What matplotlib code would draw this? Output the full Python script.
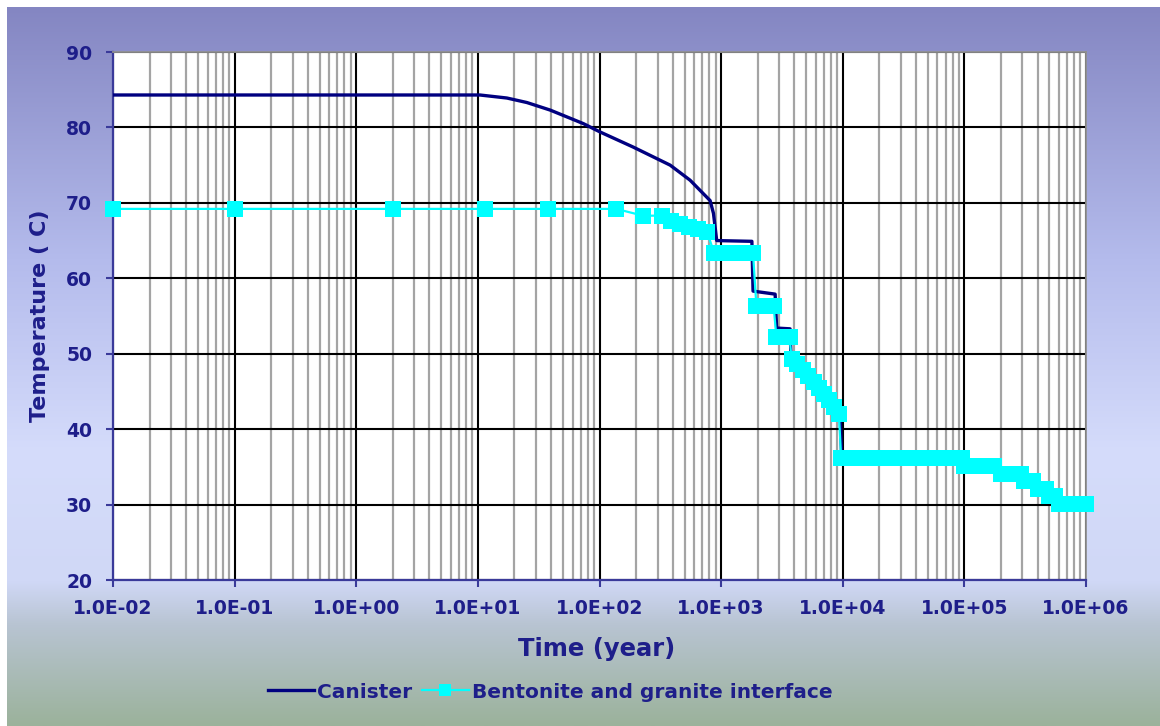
import numpy as np
import matplotlib
matplotlib.use("Agg")
import matplotlib.pyplot as plt
from matplotlib.lines import Line2D

# ---- data -------------------------------------------------------------
canister_years = [0.01, 10.4, 11.8, 17.3, 25.3, 39.3, 73.8, 101, 189, 381, 556,
                  812, 865, 920, 1790, 1830, 2780, 2860, 3690, 3750, 4700, 5800,
                  7000, 8500, 9500, 9800, 95000, 100000, 190000, 200000, 290000,
                  310000, 370000, 400000, 470000, 500000, 560000, 600000, 1000000]
canister_temp = [84.3, 84.3, 84.2, 83.9, 83.3, 82.3, 80.5, 79.4, 77.4, 75.0, 73.0,
                 70.3, 68.6, 65.0, 64.9, 58.3, 57.9, 53.4, 53.3, 49.8, 48.3, 46.6,
                 44.9, 43.2, 42.2, 36.4, 36.3, 35.2, 35.1, 34.1, 34.0,
                 33.2, 33.1, 32.0, 32.0, 31.2, 31.2, 30.1, 30.1]

interface_years = [0.01, 0.1, 2, 11.5, 38, 137, 228, 325, 388, 460, 546, 647, 767,
                   880, 1000, 1150, 1300, 1500, 1700, 1830,
                   1950, 2300, 2700,
                   2850, 3200, 3650,
                   3800, 4200, 4700, 5200, 5800, 6400, 7000, 7700, 8500, 9300,
                   9700, 12000, 15000, 18000, 22000, 27000, 33000, 40000, 48000,
                   58000, 70000, 85000, 95000,
                   100000, 120000, 145000, 175000,
                   200000, 240000, 290000,
                   310000, 370000,
                   400000, 470000,
                   500000, 560000,
                   600000, 680000, 760000, 850000, 1000000]
interface_temp = [69.2, 69.2, 69.2, 69.2, 69.2, 69.2, 68.3, 68.3, 67.6, 67.2, 66.8, 66.5, 66.1,
                  63.3, 63.3, 63.3, 63.3, 63.3, 63.3, 63.3,
                  56.3, 56.3, 56.3,
                  52.2, 52.2, 52.2,
                  49.3, 48.6, 47.8, 47.0, 46.2, 45.4, 44.6, 43.8, 42.9, 42.0,
                  36.2, 36.2, 36.2, 36.2, 36.2, 36.2, 36.2, 36.2, 36.2,
                  36.2, 36.2, 36.2, 36.2,
                  35.1, 35.1, 35.1, 35.1,
                  34.0, 34.0, 34.0,
                  33.15, 33.15,
                  32.0, 32.0,
                  31.2, 31.2,
                  30.05, 30.05, 30.05, 30.05, 30.05]

x_ticks = [1e-2, 1e-1, 1e0, 1e1, 1e2, 1e3, 1e4, 1e5, 1e6]
x_tick_labels = ["1.0E-02", "1.0E-01", "1.0E+00", "1.0E+01", "1.0E+02",
                 "1.0E+03", "1.0E+04", "1.0E+05", "1.0E+06"]
y_ticks = [20, 30, 40, 50, 60, 70, 80, 90]

# ---- styling ----------------------------------------------------------
TEXT = "#1e1e8a"
NAVY = "#000080"
CYAN = "#00ffff"
plt.rcParams["font.family"] = ["DejaVu Sans"]

W, H = 1160, 726
fig = plt.figure(figsize=(W / 100, H / 100), dpi=100)
fig.patch.set_facecolor("white")

# gradient backdrop (white strip on top and left)
bg = fig.add_axes([7 / W, 0, (W - 7) / W, (H - 7) / H], zorder=-5)
rows = np.linspace(0, 1, 400)
stops = [0.0, 0.35, 0.62, 0.80, 0.86, 1.0]
cols = np.array([[0x84, 0x86, 0xc2],
                 [0xb4, 0xbb, 0xec],
                 [0xd5, 0xdc, 0xfb],
                 [0xd0, 0xd8, 0xf6],
                 [0xb8, 0xc4, 0xd2],
                 [0x9b, 0xb2, 0x9b]]) / 255.0
grad = np.stack([np.interp(rows, stops, cols[:, k]) for k in range(3)], axis=-1)
bg.imshow(grad[:, None, :], aspect="auto", extent=[0, 1, 1, 0], interpolation="bilinear")
bg.set_xlim(0, 1)
bg.set_ylim(1, 0)
bg.axis("off")

ax = fig.add_axes([113 / W, 1 - 580 / H, (1086 - 113) / W, (580 - 52) / H])
ax.set_facecolor("white")
ax.set_xscale("log")
ax.set_xlim(1e-2, 1e6)
ax.set_ylim(20, 90)

ax.grid(True, which="major", axis="both", color="black", lw=1.5, zorder=0)
ax.grid(True, which="minor", axis="x", color="#a4a4a4", lw=1.6, zorder=0)
ax.set_axisbelow(True)

ax.plot(canister_years, canister_temp, color=NAVY, lw=2.4, zorder=3)
ax.plot(interface_years, interface_temp, color=CYAN, lw=1.6, marker="s",
        markersize=11, markeredgewidth=0, markerfacecolor=CYAN, zorder=4,
        clip_on=False)

ax.set_xticks(x_ticks)
ax.set_xticklabels(x_tick_labels)
ax.set_yticks(y_ticks)
ax.xaxis.set_minor_formatter(plt.NullFormatter())
ax.tick_params(axis="x", which="minor", length=0)
ax.tick_params(axis="both", which="major", length=5, width=1.5, color="#3a3a9a",
               labelcolor=TEXT, labelsize=13.5, direction="out")
ax.tick_params(axis="x", pad=9)
ax.tick_params(axis="y", pad=10)
for lab in ax.get_xticklabels() + ax.get_yticklabels():
    lab.set_fontweight("bold")

for side in ("left", "bottom"):
    ax.spines[side].set_color("#3a3a9a")
    ax.spines[side].set_linewidth(1.6)
for side in ("top", "right"):
    ax.spines[side].set_color("#909090")
    ax.spines[side].set_linewidth(1.3)

fig.text(40 / W, 1 - 316 / H, "Temperature ( C)", rotation=90, ha="center",
         va="center", color=TEXT, fontsize=16, fontweight="bold")
fig.text(597 / W, 1 - 649 / H, "Time (year)", ha="center", va="center",
         color=TEXT, fontsize=17.5, fontweight="bold")

handles = [Line2D([], [], color=NAVY, lw=2.4),
           Line2D([], [], color=CYAN, lw=1.6, marker="s", markersize=9,
                  markeredgewidth=0)]
fig.legend(handles, ["Canister", "Bentonite and granite interface"],
           loc="center", bbox_to_anchor=(550 / W, 1 - 692 / H), ncol=2,
           frameon=False, handlelength=2.3, handletextpad=0.15,
           columnspacing=0.5, numpoints=1,
           prop={"size": 14.5, "weight": "bold"}, labelcolor=TEXT)

fig.savefig("out.png", dpi=100)
